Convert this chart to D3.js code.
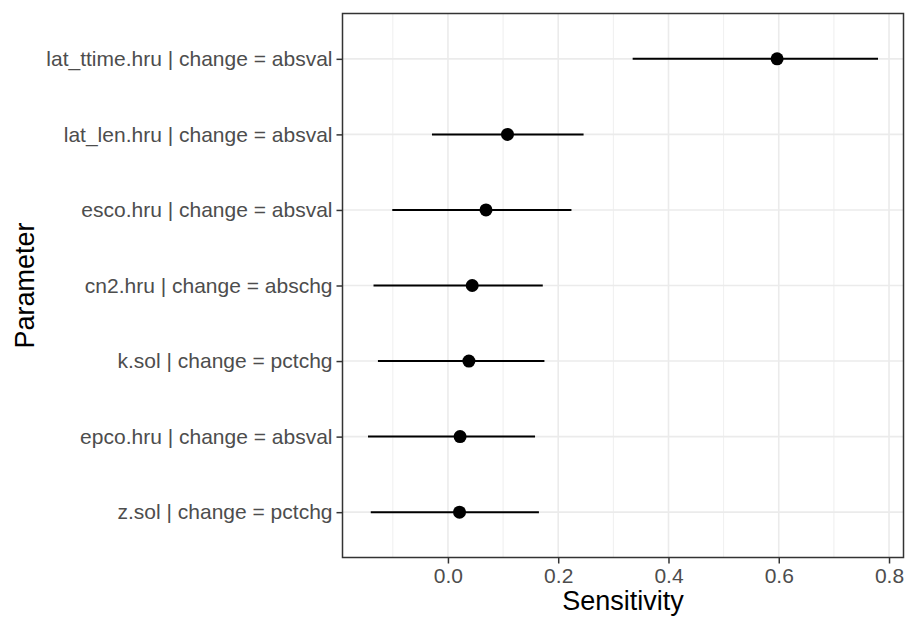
<!DOCTYPE html>
<html>
<head>
<meta charset="utf-8">
<script src="https://cdn.jsdelivr.net/npm/d3@7"></script>
<style>
  body { margin: 0; background: #fff; }
  text { font-family: "Liberation Sans", Arial, Helvetica, sans-serif; }
</style>
</head>
<body>
<script>
// data, top row first
let params = ["lat_ttime.hru | change = absval", "lat_len.hru | change = absval",
  "esco.hru | change = absval", "cn2.hru | change = abschg", "k.sol | change = pctchg",
  "epco.hru | change = absval", "z.sol | change = pctchg"];
let sens = [0.597, 0.108, 0.069, 0.044, 0.038, 0.022, 0.021];
let lower = [0.335, -0.029, -0.101, -0.135, -0.127, -0.145, -0.140];
let upper = [0.780, 0.246, 0.224, 0.172, 0.175, 0.158, 0.165];
let xTicks = [0.0, 0.2, 0.4, 0.6, 0.8];
let xMinor = [-0.1, 0.1, 0.3, 0.5, 0.7];

let svgWidth = 905, svgHeight = 617;
let margins = { left: 342.5, top: 13.5, right: 1.5, bottom: 59.5 };
let width = svgWidth - margins.left - margins.right;
let height = svgHeight - margins.top - margins.bottom;

let data = params.map((p, i) => ({ p: p, s: sens[i], lo: lower[i], hi: upper[i] }));

let svg = d3.select("body").append("svg")
  .attr("width", svgWidth)
  .attr("height", svgHeight);

// x scale with ggplot style 5% expansion
let lo = d3.min(lower), hi = d3.max(upper);
let pad = (hi - lo) * 0.05;
let xScale = d3.scaleLinear().domain([lo - pad, hi + pad]).range([0, width]);
let yScale = d3.scalePoint().domain(params).range([0, height]).padding(0.6);

let container = svg.append("g")
  .attr("transform", `translate(${margins.left}, ${margins.top})`);

// grid
container.selectAll(".minor").data(xMinor).join("line")
  .attr("x1", d => xScale(d)).attr("x2", d => xScale(d))
  .attr("y1", 0).attr("y2", height)
  .attr("stroke", "#EBEBEB").attr("stroke-width", 0.8);
container.selectAll(".major").data(xTicks).join("line")
  .attr("x1", d => xScale(d)).attr("x2", d => xScale(d))
  .attr("y1", 0).attr("y2", height)
  .attr("stroke", "#EBEBEB").attr("stroke-width", 1.6);
container.selectAll(".hgrid").data(params).join("line")
  .attr("x1", 0).attr("x2", width)
  .attr("y1", d => yScale(d)).attr("y2", d => yScale(d))
  .attr("stroke", "#EBEBEB").attr("stroke-width", 1.6);

// error bars and points
container.selectAll(".bar").data(data).join("line")
  .attr("x1", d => xScale(d.lo)).attr("x2", d => xScale(d.hi))
  .attr("y1", d => yScale(d.p)).attr("y2", d => yScale(d.p))
  .attr("stroke", "black").attr("stroke-width", 2);
container.selectAll(".pt").data(data).join("circle")
  .attr("cx", d => xScale(d.s))
  .attr("cy", d => yScale(d.p))
  .attr("r", 6.5)
  .attr("fill", "black");

// panel border
container.append("rect")
  .attr("width", width).attr("height", height)
  .attr("fill", "none").attr("stroke", "#333333").attr("stroke-width", 1.5);

// axes
let xAxisG = svg.append("g")
  .attr("transform", `translate(${margins.left}, ${margins.top + height})`)
  .call(d3.axisBottom(xScale).tickValues(xTicks).tickFormat(d3.format(".1f")).tickSizeOuter(0).tickSize(6).tickPadding(5));
let yAxisG = svg.append("g")
  .attr("transform", `translate(${margins.left}, ${margins.top})`)
  .call(d3.axisLeft(yScale).tickSizeOuter(0).tickSize(6).tickPadding(4));
[xAxisG, yAxisG].forEach(g => {
  g.select(".domain").remove();
  g.selectAll(".tick line").attr("stroke", "#333333").attr("stroke-width", 1.5);
  g.selectAll(".tick text").attr("fill", "#4D4D4D").style("font-size", "21px");
});

// axis titles
svg.append("text").text("Sensitivity")
  .attr("x", margins.left + width / 2)
  .attr("y", 610)
  .attr("text-anchor", "middle")
  .style("font-size", "27px");
svg.append("g")
  .attr("transform", `translate(${34}, ${margins.top + height / 2})`)
  .append("text").text("Parameter")
  .attr("text-anchor", "middle")
  .attr("transform", "rotate(-90)")
  .style("font-size", "27px");
</script>
</body>
</html>
